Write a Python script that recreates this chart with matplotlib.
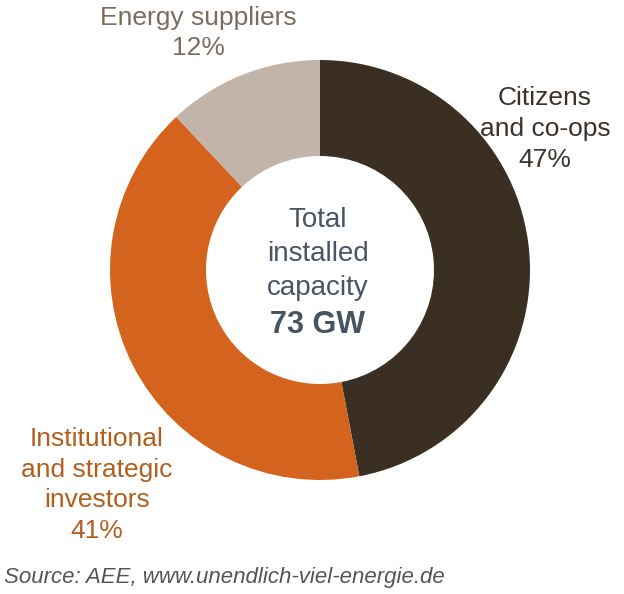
import matplotlib.pyplot as plt

# shares of installed capacity, clockwise from 12 o'clock
owners = ['Citizens\nand co-ops', 'Institutional\nand strategic\ninvestors', 'Energy suppliers']
shares = [47, 41, 12]
colors = ['#3b2e22', '#d4631d', '#c2b4a8']
label_colors = ['#3a332d', '#b15e1e', '#7b6c60']
center_lines = ['Total', 'installed', 'capacity']
center_value = '73 GW'
source = 'Source: AEE, www.unendlich-viel-energie.de'

plt.rcParams['font.family'] = ['Liberation Sans', 'DejaVu Sans']

W, H = 624, 594
fig = plt.figure(figsize=(W / 100, H / 100), dpi=100)
ax = fig.add_axes([0, 0, 1, 1])

cx, cy = 320, H - 270
R = 210
ax.pie(shares, colors=colors, startangle=90, counterclock=False,
       center=(cx, cy), radius=R,
       wedgeprops=dict(width=R - 114, linewidth=0))
ax.set_xlim(0, W)
ax.set_ylim(0, H)
ax.set_aspect('equal')
ax.axis('off')

# segment labels
lab_kw = dict(ha='center', va='center', fontsize=19, linespacing=1.36)
ax.text(545, H - 129, f'{owners[0]}\n{shares[0]}%', color=label_colors[0], **lab_kw)
ax.text(97, H - 485, f'{owners[1]}\n{shares[1]}%', color=label_colors[1], **lab_kw)
ax.text(198, H - 33, f'{owners[2]}\n{shares[2]}%', color=label_colors[2], **lab_kw)

# center text
ax.text(cx - 2, H - 254, '\n'.join(center_lines), ha='center', va='center',
        fontsize=20, linespacing=1.41, color='#4a5563')
ax.text(cx - 2, H - 325, center_value, ha='center', va='center',
        fontsize=22, fontweight='bold', color='#465462')

ax.text(4, H - 578, source, ha='left', va='center', fontsize=16,
        style='italic', color='#555555')

fig.savefig('out.png', dpi=100)
